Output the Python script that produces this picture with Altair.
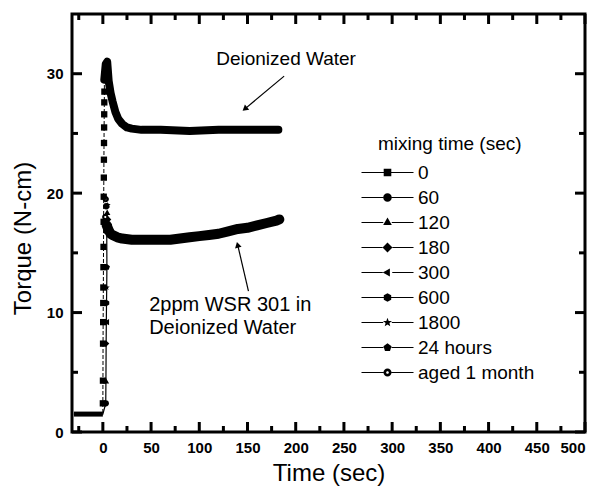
import math
import altair as alt
import pandas as pd

# ---------------- data ----------------
series_names = ["0", "60", "120", "180", "300", "600", "1800", "24 hours", "aged 1 month"]

# before the start (both fluids) ~1.5 N-cm
pre_t = [-30, -20, -10, 0]
pre_v = [1.5, 1.5, 1.5, 1.5]

# deionized water: rising samples (squares)
dw_rise_t = [0.0, 0.1, 0.2, 0.3, 0.4, 0.5, 0.6, 0.7, 0.8, 0.9, 1.0, 1.1, 1.2, 1.3, 1.4, 1.5, 1.6]
dw_rise_v = [2.4, 4.3, 7.4, 9.2, 10.8, 12.1, 13.8, 15.5, 17.6, 19.7, 21.3, 22.8, 24.2, 25.5, 26.6, 27.6, 28.5]

# deionized water: dense part (looks like a thick band)
dw_t = [1.5, 3, 4.5, 6, 8, 10, 13, 16, 20, 25, 30, 40, 60, 90, 120, 150, 182]
dw_v = [29.5, 30.8, 31.0, 29.4, 28.4, 27.7, 26.8, 26.2, 25.8, 25.5, 25.4, 25.3, 25.3, 25.2, 25.3, 25.3, 25.3]

# 2 ppm WSR 301: rising samples / scattered markers near the peak
wsr_rise_t = [3.0, 3.2, 3.4, 3.6, 3.8, 4.0, 4.2, 3.0, 3.5, 4.5, 5.5, 6.5, 3.5, 5.0, 7.0, 2.5]
wsr_rise_v = [2.4, 4.3, 7.4, 9.2, 10.8, 12.1, 13.8, 19.5, 18.9, 18.4, 17.8, 17.2, 16.8, 19.0, 16.5, 18.0]
wsr_rise_s = ["60", "120", "180", "300", "600", "1800", "24 hours", "aged 1 month",
              "60", "120", "180", "300", "600", "1800", "24 hours", "aged 1 month"]

# 2 ppm WSR 301: dense band
wsr_t = [4, 6, 8, 10, 15, 20, 30, 40, 50, 60, 70, 80, 90, 100, 110, 120, 130, 140, 150, 160, 170, 180, 183]
wsr_v = [17.3, 16.9, 16.6, 16.5, 16.3, 16.2, 16.1, 16.1, 16.1, 16.1, 16.1, 16.2, 16.3, 16.4, 16.5, 16.6, 16.8, 17.0, 17.1, 17.3, 17.5, 17.7, 17.8]

x_major = [0, 50, 100, 150, 200, 250, 300, 350, 400, 450, 500]
x_minor = [-25, 25, 75, 125, 175, 225, 275, 325, 375, 425, 475]
y_major = [0, 10, 20, 30]
y_minor = [5, 15, 25]

# annotations (data coordinates)
ann_dw_text = ["Deionized Water"]
ann_dw_pos = [(190, 31.2)]
ann_dw_arrow = [(188, 29.8), (148, 27.1)]
ann_wsr_text = ["2ppm WSR 301 in", "Deionized Water"]
ann_wsr_pos = [(48, 10.6), (48, 8.7)]
ann_wsr_arrow = [(151, 11.8), (140, 15.6)]

# ---------------- geometry / style ----------------
W, H = 513, 418
X0, X1, Y0, Y1 = -32, 500, 0, 35
FONT = "Liberation Sans"
TICKFONT = "Liberation Sans Narrow, Liberation Sans"

x_scale = alt.Scale(domain=[X0, X1], nice=False, zero=False)
y_scale = alt.Scale(domain=[Y0, Y1], nice=False, zero=False)
x_axis = alt.Axis(values=x_major, ticks=False, domain=False, grid=False, format="d",
                  labelFont=TICKFONT, labelFontSize=15, labelFontWeight="bold",
                  labelColor="black", labelPadding=8,
                  title="Time (sec)", titleFont=FONT, titleFontSize=24,
                  titleFontWeight="normal", titleColor="black", titlePadding=6)
y_axis = alt.Axis(values=y_major, ticks=False, domain=False, grid=False, format="d",
                  labelFont=TICKFONT, labelFontSize=15, labelFontWeight="bold",
                  labelColor="black", labelPadding=9,
                  title="Torque (N-cm)", titleFont=FONT, titleFontSize=24,
                  titleFontWeight="normal", titleColor="black", titlePadding=11, titleY=224)
x_enc = alt.X("t:Q", scale=x_scale, axis=x_axis)
y_enc = alt.Y("v:Q", scale=y_scale, axis=y_axis)

# tick lengths expressed in data units
xu = (X1 - X0) / W
yu = (Y1 - Y0) / H


def poly(n, r, rot=-90.0):
    pts = []
    for k in range(n):
        a = math.radians(rot + 360.0 * k / n)
        pts.append((r * math.cos(a), r * math.sin(a)))
    return "M" + "L".join(f"{x:.3f},{y:.3f}" for x, y in pts) + "Z"


def star(r_out, r_in):
    pts = []
    for k in range(10):
        a = math.radians(-90 + 36 * k)
        r = r_out if k % 2 == 0 else r_in
        pts.append((r * math.cos(a), r * math.sin(a)))
    return "M" + "L".join(f"{x:.3f},{y:.3f}" for x, y in pts) + "Z"


def circle(r, cw=True):
    s = 1 if cw else 0
    return f"M{-r},0A{r},{r} 0 1,{s} {r},0A{r},{r} 0 1,{s} {-r},0Z"


def ring(r, ri):
    return circle(r, True) + circle(ri, False)


plot_shapes = ["square", "circle", "triangle-up", "diamond", "triangle-left",
               poly(6, 1.0, -90), star(1.0, 0.42), poly(5, 1.0, -90), ring(1.0, 0.35)]


def with_line(shape_path, a, half=5.2, th=0.1):
    left = f"M{-half},{-th}H{-a}V{th}H{-half}Z"
    right = f"M{a},{-th}H{half}V{th}H{a}Z"
    return left + right + shape_path


s = 0.95
legend_shapes = [
    with_line(f"M{-s*0.8},{-s*0.8}H{s*0.8}V{s*0.8}H{-s*0.8}Z", s * 0.8),
    with_line(circle(s * 0.9), s * 0.9),
    with_line(poly(3, s * 1.05, -90), s * 0.9),
    with_line(poly(4, s * 1.05, -90), s * 1.05),
    with_line(poly(3, s * 1.0, 180), s * 1.0),
    with_line(poly(6, s * 0.9, -90), s * 0.78),
    with_line(star(s * 1.0, s * 0.42), s * 0.9),
    with_line(poly(5, s * 0.9, -90), s * 0.85),
    with_line(ring(s * 0.85, s * 0.28), s * 0.85),
]

# ---------------- layers ----------------
pre_df = pd.DataFrame({"t": pre_t, "v": pre_v})
pre_layer = alt.Chart(pre_df).mark_line(color="black", strokeWidth=5).encode(x=x_enc, y=y_enc)

dw_thin_df = pd.DataFrame({"t": pre_t + dw_rise_t + dw_t, "v": pre_v + dw_rise_v + dw_v,
                           "o": list(range(len(pre_t) + len(dw_rise_t) + len(dw_t)))})
dw_thin = alt.Chart(dw_thin_df).mark_line(color="black", strokeWidth=1, strokeDash=[4, 2]).encode(
    x=x_enc, y=y_enc, order="o:Q")

dw_band = alt.Chart(pd.DataFrame({"t": dw_t, "v": dw_v})).mark_line(
    color="black", strokeWidth=8, strokeCap="round", strokeJoin="round").encode(x=x_enc, y=y_enc)

wsr_thin_df = pd.DataFrame({"t": pre_t + wsr_rise_t[:7] + wsr_t, "v": pre_v + wsr_rise_v[:7] + wsr_v,
                            "o": list(range(len(pre_t) + 7 + len(wsr_t)))})
wsr_thin = alt.Chart(wsr_thin_df).mark_line(color="black", strokeWidth=1.2).encode(
    x=x_enc, y=y_enc, order="o:Q")

wsr_band = alt.Chart(pd.DataFrame({"t": wsr_t, "v": wsr_v})).mark_line(
    color="black", strokeWidth=10, strokeCap="round", strokeJoin="round").encode(x=x_enc, y=y_enc)

mk_df = pd.DataFrame({
    "t": dw_rise_t + wsr_rise_t,
    "v": dw_rise_v + wsr_rise_v,
    "s": ["0"] * len(dw_rise_t) + wsr_rise_s,
})
markers = alt.Chart(mk_df).mark_point(filled=True, color="black", opacity=1, size=40).encode(
    x=x_enc, y=y_enc,
    shape=alt.Shape("s:N", scale=alt.Scale(domain=series_names, range=plot_shapes), legend=None))

leg_df = pd.DataFrame({"s": series_names, "t": [120] * 9, "v": [25.3] * 9})
legend_layer = alt.Chart(leg_df).mark_point(filled=True, color="black", opacity=1, size=4).encode(
    x=x_enc, y=y_enc,
    shape=alt.Shape("s:N", scale=alt.Scale(domain=series_names, range=legend_shapes),
                    sort=series_names,
                    legend=alt.Legend(title="mixing time (sec)", orient="none", legendX=306, legendY=121,
                                      titleFont=FONT, titleFontSize=19, titleFontWeight="normal",
                                      titleColor="black", titlePadding=9,
                                      labelFont=FONT, labelFontSize=19, labelColor="black",
                                      labelOffset=21, symbolSize=100, rowPadding=5, padding=0,
                                      symbolFillColor="black", symbolStrokeColor="black",
                                      symbolStrokeWidth=0.5, symbolOpacity=1)))

# inward ticks on all four sides, drawn as short line segments (lengths in data units)
MAJ, MIN = 10, 6
tick_rows = []
gid = 0
for vals, ln in ((x_major, MAJ), (x_minor, MIN)):
    for val in vals:
        for (a, b) in ((Y0, Y0 + ln * yu), (Y1, Y1 - ln * yu)):
            tick_rows += [{"t": val, "v": a, "g": gid}, {"t": val, "v": b, "g": gid}]
            gid += 1
for vals, ln in ((y_major, MAJ), (y_minor, MIN)):
    for val in vals:
        for (a, b) in ((X0, X0 + ln * xu), (X1, X1 - ln * xu)):
            tick_rows += [{"t": a, "v": val, "g": gid}, {"t": b, "v": val, "g": gid}]
            gid += 1
ticks = alt.Chart(pd.DataFrame(tick_rows)).mark_line(color="black", strokeWidth=3).encode(
    x=x_enc, y=y_enc, detail="g:N")

# annotations
txt_dw = alt.Chart(pd.DataFrame({"t": [p[0] for p in ann_dw_pos], "v": [p[1] for p in ann_dw_pos],
                                 "label": ann_dw_text})).mark_text(
    font=FONT, fontSize=19, color="black", align="center", baseline="middle").encode(
    x=x_enc, y=y_enc, text="label:N")
txt_wsr = alt.Chart(pd.DataFrame({"t": [p[0] for p in ann_wsr_pos], "v": [p[1] for p in ann_wsr_pos],
                                  "label": ann_wsr_text})).mark_text(
    font=FONT, fontSize=20, color="black", align="left", baseline="middle").encode(
    x=x_enc, y=y_enc, text="label:N")


def arrow(p0, p1, ang):
    line = alt.Chart(pd.DataFrame({"t": [p0[0], p1[0]], "v": [p0[1], p1[1]], "o": [0, 1]})).mark_line(
        color="black", strokeWidth=1.2).encode(x=x_enc, y=y_enc, order="o:Q")
    head = alt.Chart(pd.DataFrame({"t": [p1[0]], "v": [p1[1]]})).mark_point(
        shape="triangle", filled=True, color="black", opacity=1, size=45, angle=ang).encode(x=x_enc, y=y_enc)
    return [line, head]


arrows = arrow(ann_dw_arrow[0], ann_dw_arrow[1], 230) + arrow(ann_wsr_arrow[0], ann_wsr_arrow[1], 346)

chart = alt.layer(
    pre_layer, dw_thin, wsr_thin, dw_band, wsr_band, markers, legend_layer,
    ticks, txt_dw, txt_wsr, *arrows
).resolve_scale(shape="independent").properties(
    width=W, height=H,
    padding={"left": 72, "top": 14, "right": 17, "bottom": 62},
    autosize=alt.AutoSizeParams(type="none"),
    background="white",
).configure_view(stroke="black", strokeWidth=3)

chart.save("out.html", embed_options={"renderer": "svg", "actions": False})
